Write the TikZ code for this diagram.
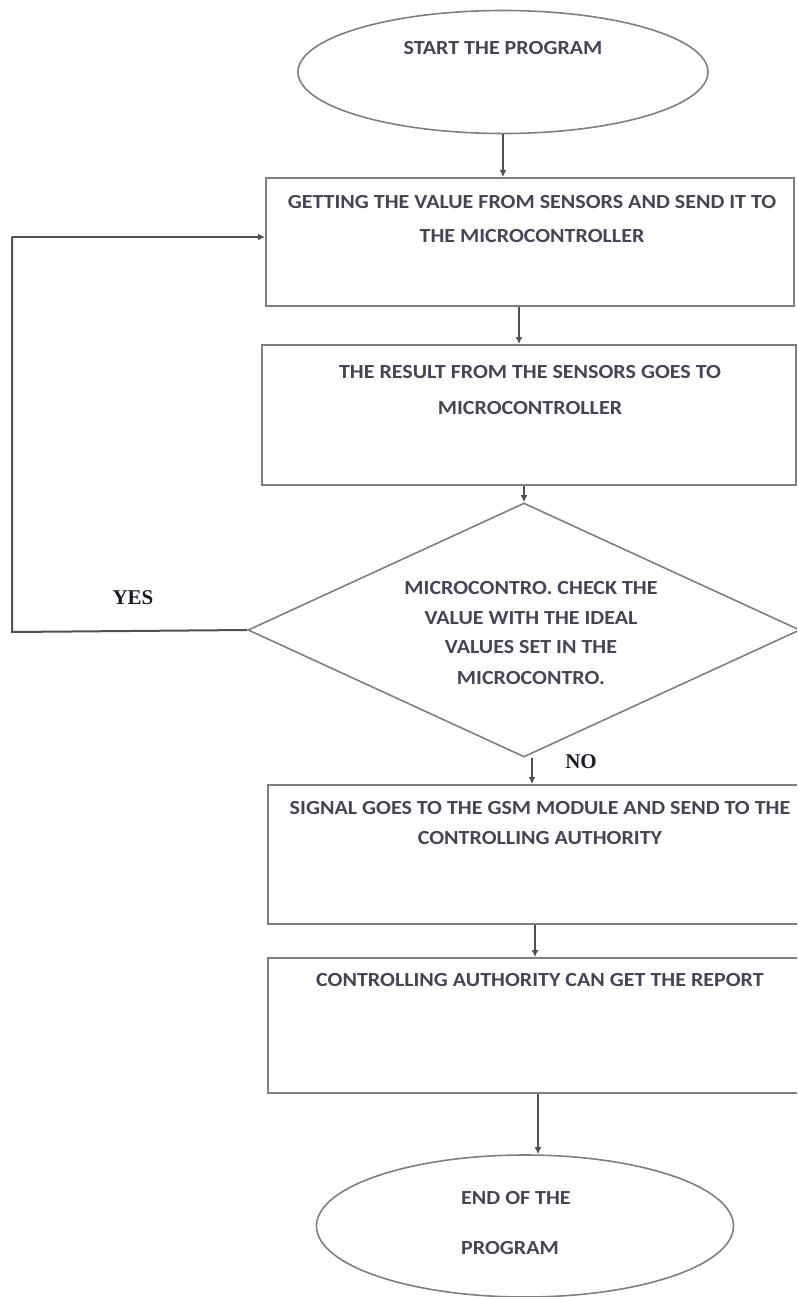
\documentclass[tikz,border=0pt]{standalone}
\usepackage{graphicx}
\usepackage{fontspec}
\setmainfont{Carlito}
\newfontfamily\labfont{Liberation Serif}
\usetikzlibrary{shapes.geometric,arrows.meta}
\definecolor{boxline}{HTML}{7F7F7F}
\definecolor{conline}{HTML}{505050}
\definecolor{txt}{HTML}{454555}
\definecolor{labtxt}{HTML}{1A1A28}
\newcommand{\wtxt}[1]{\scalebox{1.1}[1]{#1}}
\tikzset{
  boxst/.style={draw=boxline,line width=2pt,rectangle,inner sep=0pt},
  ovalst/.style={draw=boxline,line width=1.6pt,ellipse,inner sep=0pt},
  diast/.style={draw=boxline,line width=1.6pt,diamond,inner sep=0pt},
  lbl/.style={text=txt,font=\fontsize{20}{22}\selectfont\bfseries,inner sep=0pt,anchor=center},
  yn/.style={text=labtxt,font=\labfont\fontsize{21}{24}\selectfont\bfseries,inner sep=0pt},
  con/.style={draw=conline,line width=2pt,-{Latex[length=7pt,width=7pt]}},
  plain/.style={draw=conline,line width=2pt}
}
\begin{document}
\begin{tikzpicture}[x=1pt,y=-1pt]
\useasboundingbox (0,0) rectangle (797,1297);
\clip (0,0) rectangle (797,1297);
% shapes
\node[ovalst,minimum width=410pt,minimum height=123pt] (start) at (503,72) {};
\node[boxst,minimum width=528pt,minimum height=128pt] (b1) at (530,242) {};
\node[boxst,minimum width=534pt,minimum height=140pt] (b2) at (529,415) {};
\node[diast,minimum width=552pt,minimum height=254pt,aspect=2.17] (dec) at (524,630) {};
\node[boxst,minimum width=534pt,minimum height=139pt] (b3) at (535,854.5) {};
\node[boxst,minimum width=534pt,minimum height=135pt] (b4) at (535,1025.5) {};
\node[ovalst,minimum width=417pt,minimum height=142pt] (stop) at (525,1226) {};
% texts
\node[lbl] (t0) at (503,48) {\wtxt{START THE PROGRAM}};
\node[lbl] (t1a) at (532,202) {\wtxt{GETTING THE VALUE FROM SENSORS AND SEND IT TO}};
\node[lbl] (t1b) at (532,236) {\wtxt{THE MICROCONTROLLER}};
\node[lbl] (t2a) at (530,372) {\wtxt{THE RESULT FROM THE SENSORS GOES TO}};
\node[lbl] (t2b) at (530,408) {\wtxt{MICROCONTROLLER}};
\node[lbl] (t3a) at (531,588) {\wtxt{MICROCONTRO. CHECK THE}};
\node[lbl] (t3b) at (531,618) {\wtxt{VALUE WITH THE IDEAL}};
\node[lbl] (t3c) at (531,647) {\wtxt{VALUES SET IN THE}};
\node[lbl] (t3d) at (531,678) {\wtxt{MICROCONTRO.}};
\node[lbl] (t4a) at (540,808) {\wtxt{SIGNAL GOES TO THE GSM MODULE AND SEND TO THE}};
\node[lbl] (t4b) at (540,838) {\wtxt{CONTROLLING AUTHORITY}};
\node[lbl] (t5) at (540,980) {\wtxt{CONTROLLING AUTHORITY CAN GET THE REPORT}};
\node[lbl,anchor=west] (t6a) at (461,1198) {\wtxt{END OF THE}};
\node[lbl,anchor=west] (t6b) at (461,1248) {\wtxt{PROGRAM}};
\node[yn] (yes) at (133,598) {YES};
\node[yn] (no) at (581,762) {NO};
% connectors
\draw[con] (start.south) -- (start.south |- b1.north);
\draw[con] ([xshift=-11pt]b1.south) -- ([xshift=-11pt]b1.south |- b2.north);
\draw[con] (b2.south -| dec.north) -- (dec.north);
\coordinate (fbL) at (12,632);
\coordinate (fbT) at (12,237);
\draw[plain] (dec.west) -- (fbL) -- (fbT);
\draw[con] (fbT) -- (fbT -| b1.west);
\draw[con] ([xshift=8pt]dec.south) -- ([xshift=8pt]dec.south |- b3.north);
\draw[con] (b3.south) -- (b4.north);
\draw[con] ([xshift=3pt]b4.south) -- ([xshift=3pt]b4.south |- stop.north);
\end{tikzpicture}
\end{document}
